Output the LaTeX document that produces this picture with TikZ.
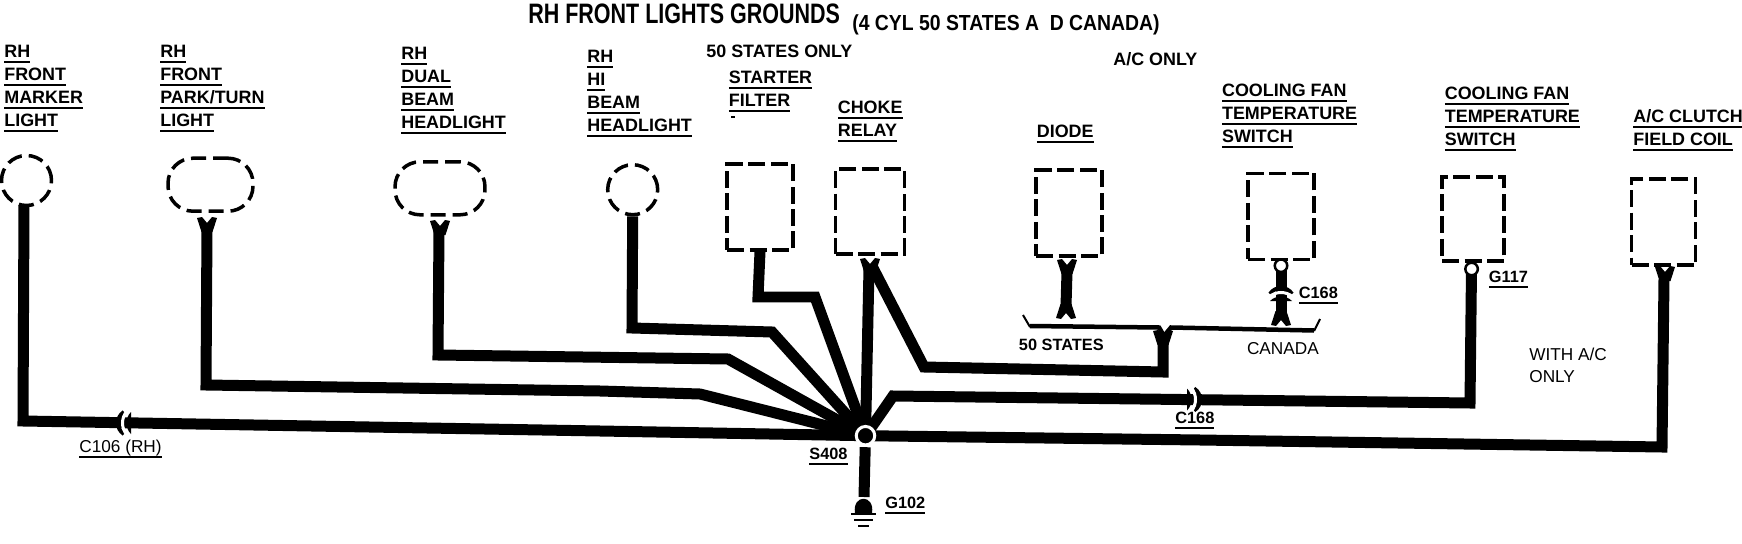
\documentclass[tikz,border=0pt]{standalone}
\usepackage{fontspec}
\setmainfont{Liberation Sans}
\usetikzlibrary{calc}
\newcommand{\ulbl}[1]{\mbox{\setbox0=\hbox{#1}\rlap{\vrule height -2pt depth 3.2pt width \wd0}\box0}}
\def\wirefork(#1,#2,#3){\fill ({#1-10},#2) -- ({#1-5},{#2-#3*1}) -- (#1,{#2+#3*5}) -- ({#1+5},{#2-#3*1}) -- ({#1+10},#2) -- ({#1+5.5},{#2+#3*14}) -- ({#1-5.5},{#2+#3*14}) -- cycle;}
\def\plugmark(#1,#2,#3){\begin{scope}[shift={(#1,#2)},rotate=#3]
	\draw[line width=0.08cm] (2,-11) .. controls (-6,-6) and (-6,6) .. (2,11);
	\draw[white,line width=0.06cm] (5,-12) .. controls (-1,-5) and (-1,5) .. (5,12);
	\fill (9,-11) .. controls (3,-5) and (3,5) .. (9,11) -- cycle;
\end{scope}}
\tikzset{
	wire/.style={line width=0.22cm},
	bracket/.style={line width=0.09cm},
	thintick/.style={line width=0.04cm},
	earthline/.style={line width=0.045cm},
	dashround/.style={draw,dash pattern=on 0.3cm off 0.14cm,line width=0.07cm,inner sep=0pt},
	dashbox/.style={draw,dash pattern=on 0.34cm off 0.11cm,line width=0.07cm,inner sep=0pt},
	ringpin/.style={circle,draw,fill=white,inner sep=0pt,line width=0.05cm,minimum size=0.25cm},
	hubdot/.style={circle,draw=white,fill=black,inner sep=0pt,line width=0.06cm,minimum size=0.37cm},
	lbl/.style={anchor=north west,inner sep=0pt,align=left,font=\fontsize{10.2}{13}\selectfont\bfseries},
	smalllbl/.style={anchor=north west,inner sep=0pt,align=left,font=\fontsize{9.3}{12.6}\selectfont\bfseries},
	thinlbl/.style={anchor=north west,inner sep=0pt,align=left,font=\fontsize{9.8}{12.5}\selectfont},
}
\begin{document}
\begin{tikzpicture}[x=0.02cm,y=-0.02cm]
	%%%%% START %%%%%
	\useasboundingbox (0,0) rectangle (1742,544);

	\node[anchor=base west,inner sep=0pt,xscale=0.765,font=\fontsize{16}{18}\selectfont\bfseries] (title) at (528,24) {RH FRONT LIGHTS GROUNDS};
	\node[anchor=base west,inner sep=0pt,xscale=0.89,font=\fontsize{12.4}{14}\selectfont\bfseries] (subtitle) at (852,31) {(4 CYL 50 STATES A\ \ D CANADA)};

	\node[lbl] (markertxt) at (4,45) {\ulbl{RH}\\\ulbl{FRONT}\\\ulbl{MARKER}\\\ulbl{LIGHT}};
	\node[lbl] (parktxt) at (160,45) {\ulbl{RH}\\\ulbl{FRONT}\\\ulbl{PARK/TURN}\\\ulbl{LIGHT}};
	\node[lbl] (dualtxt) at (401,47) {\ulbl{RH}\\\ulbl{DUAL}\\\ulbl{BEAM}\\\ulbl{HEADLIGHT}};
	\node[lbl] (hitxt) at (587,50) {\ulbl{RH}\\\ulbl{HI}\\\ulbl{BEAM}\\\ulbl{HEADLIGHT}};
	\node[lbl] (only50) at (706,44.5) {50 STATES ONLY};
	\node[lbl] (startertxt) at (728.5,71) {\ulbl{STARTER}\\\ulbl{FILTER}};
	\node[lbl] (choketxt) at (837.5,101) {\ulbl{CHOKE}\\\ulbl{RELAY}};
	\node[lbl] (diodetxt) at (1036.5,125) {\ulbl{DIODE}};
	\node[lbl] (onlyac) at (1113,52.5) {A/C ONLY};
	\node[lbl] (fantxt) at (1221.7,84) {\ulbl{COOLING FAN}\\\ulbl{TEMPERATURE}\\\ulbl{SWITCH}};
	\node[lbl] (fanbtxt) at (1444.5,86.5) {\ulbl{COOLING FAN}\\\ulbl{TEMPERATURE}\\\ulbl{SWITCH}};
	\node[lbl] (clutchtxt) at (1633,109) {\ulbl{A/C CLUTCH}\\\ulbl{FIELD COIL}};
	\fill (731,116.5) rectangle (735,118);

	\node[dashround,circle,minimum size=1cm] (marker) at (26.5,180.5) {};
	\node[dashround,rounded corners=0.5cm,minimum width=1.7cm,minimum height=1.06cm] (park) at (210.5,184.7) {};
	\node[dashround,rounded corners=0.5cm,minimum width=1.8cm,minimum height=1.06cm] (dual) at (440,188.3) {};
	\node[dashround,circle,minimum size=1cm] (hibeam) at (632.7,189.7) {};
	\node[dashbox,minimum width=1.32cm,minimum height=1.72cm] (starter) at (760,207) {};
	\node[dashbox,minimum width=1.38cm,minimum height=1.7cm] (choke) at (870,211.5) {};
	\node[dashbox,minimum width=1.32cm,minimum height=1.72cm] (diode) at (1069,213) {};
	\node[dashbox,minimum width=1.32cm,minimum height=1.72cm] (fan) at (1281,216.3) {};
	\node[dashbox,minimum width=1.24cm,minimum height=1.68cm] (fanb) at (1473,219) {};
	\node[dashbox,minimum width=1.28cm,minimum height=1.72cm] (clutch) at (1663.6,222.2) {};

	\coordinate (hubpos) at (865.5,435.7);
	\coordinate (parkpin) at (207,228);
	\coordinate (dualpin) at (439,230);
	\coordinate (chokepin) at (869,268);
	\coordinate (chokeside) at (873,268);
	\coordinate (diodepin) at (1067,272);
	\coordinate (diodeend) at (1066,306);
	\coordinate (crossend) at (1163,342);
	\coordinate (fanend) at (1281,314);
	\coordinate (clutchpin) at (1664,279);
	\coordinate (earth) at (864,497);

	\draw[wire] (24,205) -- (23,421) -- (600,431) -- (hubpos);
	\draw[wire] (parkpin) -- (206,385) -- (600,391) -- (700,394) -- (hubpos);
	\draw[wire] (dualpin) -- (438,355) -- (728,359) -- (hubpos);
	\draw[wire] (hibeam.south) -- (632,328) -- (772,332) -- (hubpos);
	\draw[wire] (starter.south) -- (758,297) -- (815,297) -- (hubpos);
	\draw[wire] (chokepin) -- (hubpos);
	\draw[wire] (chokeside) -- (924,367) -- (1163,372) -- (crossend);
	\draw[wire] (hubpos) -- (893,396) -- (1470,403) -- (1471.5,269);
	\draw[wire] (hubpos) -- (1200,440) -- (1662,447) -- (clutchpin);
	\draw[wire,shorten <=0.23cm] (hubpos) -- (earth);
	\draw[wire] (diodepin) -- (diodeend);
	\draw[wire] (1281,266) -- (fanend);

	\plugmark(122,423,0)
	\plugmark(1196,399.5,180)
	\plugmark(1281,292,-90)

	\wirefork(207,218,1)
	\wirefork(440,221,1)
	\wirefork(870,259,1)
	\wirefork(1067,260,1)
	\wirefork(1665,267,1)
	\wirefork(1066,318,-1)
	\wirefork(1281,325,-1)
	\wirefork(1163,331,1)

	\draw[bracket] (1030,326) -- (1159,327.5) -- (1164,336) -- (1171,327.5) -- (1314,330.5);
	\draw[thintick] (1023,315) -- (1030,327);
	\draw[thintick] (1314,331) -- (1320,319);

	\node[hubdot] (hub) at (hubpos) {};
	\node[ringpin] (fanring) at (1281,265.7) {};
	\node[ringpin] (fanbring) at (1471.6,269) {};

	\fill (855,513) .. controls (852,494) and (875,494) .. (872,513) -- cycle;
	\draw[earthline] (851,514) -- (876,514);
	\draw[earthline] (854,520) -- (873,520);
	\draw[earthline] (858,526) -- (869,526);

	\node[thinlbl] (c106) at (79,440) {\ulbl{C106 (RH)}};
	\node[smalllbl] (s408) at (809,447.8) {\ulbl{S408}};
	\node[smalllbl] (g102) at (885,497) {\ulbl{G102}};
	\node[smalllbl] (c168) at (1175,412) {\ulbl{C168}};
	\node[smalllbl] (c168b) at (1298.5,287) {\ulbl{C168}};
	\node[smalllbl] (g117) at (1488.6,270.7) {\ulbl{G117}};
	\node[smalllbl] (states) at (1018.6,339) {50 STATES};
	\node[thinlbl] (canada) at (1246.7,342.5) {CANADA};
	\node[thinlbl] (withac) at (1529,348) {WITH A/C\\ONLY};

	%%%%% END %%%%%
\end{tikzpicture}
\end{document}
